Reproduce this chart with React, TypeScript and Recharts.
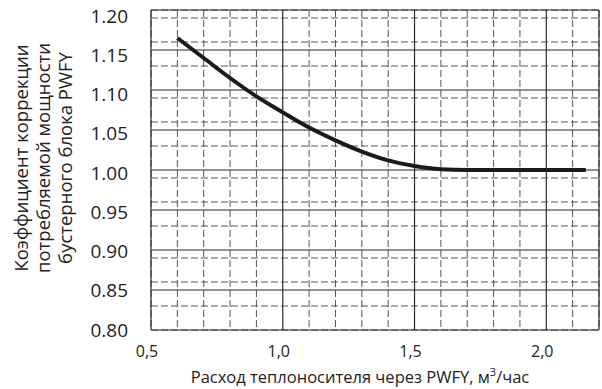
import { LineChart, Line, XAxis, YAxis, CartesianGrid, Label } from 'recharts'

// flow rate (m3/h) vs. power correction coefficient
const flowRate = [0.6, 0.7, 0.8, 0.9, 1.0, 1.1, 1.2, 1.3, 1.4, 1.5, 1.6, 1.7, 1.9, 2.15]
const correction = [1.165, 1.14, 1.115, 1.092, 1.072, 1.053, 1.037, 1.023, 1.012, 1.005, 1.001, 1.0, 1.0, 1.0]

const xTicks = [0.5, 1.0, 1.5, 2.0]
const yTicks = [0.8, 0.85, 0.9, 0.95, 1.0, 1.05, 1.1, 1.15, 1.2]

// grid lines
const xMajor = [0.5, 1.0, 1.5, 2.0, 2.2]
const xMinor = [0.6, 0.7, 0.8, 0.9, 1.1, 1.2, 1.3, 1.4, 1.6, 1.7, 1.8, 1.9, 2.1]
const yMinor = [
  0.81, 0.82, 0.83, 0.84, 0.86, 0.87, 0.88, 0.89, 0.91, 0.92, 0.93, 0.94, 0.96, 0.97, 0.98, 0.99,
  1.01, 1.02, 1.03, 1.04, 1.06, 1.07, 1.08, 1.09, 1.11, 1.12, 1.13, 1.14, 1.16, 1.17, 1.18, 1.19,
]

const yTitleLines = ['Коэффициент коррекции', 'потребляемой мощности', 'бустерного блока PWFY']

const data = flowRate.map((x, i) => ({ x, y: correction[i] }))

const FONT = '"Open Sans", sans-serif'

const YTitle = ({ viewBox }: any) => {
  const cy = viewBox.y + viewBox.height / 2 - 12
  const xs = [28, 50, 72]
  return (
    <g>
      {yTitleLines.map((t, i) => (
        <text
          key={i}
          x={xs[i]}
          y={cy}
          transform={`rotate(-90, ${xs[i]}, ${cy})`}
          textAnchor="middle"
          fontSize={18.5}
          fontFamily={FONT}
          fill="#222"
        >
          {t}
        </text>
      ))}
    </g>
  )
}

const XTitle = () => (
  <text x={360} y={383} textAnchor="middle" fontSize={16.5} fontFamily={FONT} fill="#222">
    Расход теплоносителя через PWFY, м
    <tspan dy={-7} fontSize={11}>3</tspan>
    <tspan dy={7}>/час</tspan>
  </text>
)

const YTick = ({ x, y, payload }: any) => (
  <text x={x} y={y + (payload.value - 0.8) * 15} dy="0.355em" textAnchor="end" fontSize={19} fontFamily={FONT} fill="#222">
    {payload.value.toFixed(2)}
  </text>
)

export default function App() {
  return (
    <div style={{ width: 602, height: 389, background: '#fff' }}>
      <style>{`body{margin:0}`}</style>
      <LineChart width={602} height={389} data={data} margin={{ top: 10, right: 3, bottom: 0, left: 0 }}>
        <XAxis xAxisId="minor" dataKey="x" type="number" domain={[0.5, 2.2]} ticks={xMinor} hide />
        <YAxis yAxisId="minor" dataKey="y" type="number" domain={[0.8, 1.2]} ticks={yMinor} width={151} hide />
        <XAxis xAxisId="major" dataKey="x" type="number" domain={[0.5, 2.2]} ticks={xMajor} hide />
        <YAxis yAxisId="major" dataKey="y" type="number" domain={[0.8, 1.2]} ticks={yTicks} width={151} hide />
        <CartesianGrid xAxisId="minor" yAxisId="minor" stroke="#555" strokeDasharray="7 3" />
        <CartesianGrid xAxisId="major" yAxisId="major" stroke="#2a2a2a" strokeWidth={1.2} />
        <XAxis
          dataKey="x"
          type="number"
          domain={[0.5, 2.2]}
          ticks={xTicks}
          tickFormatter={(v: number) => v.toFixed(1).replace('.', ',')}
          axisLine={false}
          tickLine={false}
          tickSize={0}
          tickMargin={16}
          tick={{ fill: '#222', fontSize: 16, fontFamily: FONT, dx: -4 }}
          height={59}
        >
          <Label content={<XTitle />} />
        </XAxis>
        <YAxis
          dataKey="y"
          type="number"
          domain={[0.8, 1.2]}
          ticks={yTicks}
          axisLine={false}
          tickLine={false}
          tickSize={0}
          tickMargin={23}
          width={151}
          tick={<YTick />}
        >
          <Label content={<YTitle />} />
        </YAxis>
        <Line
          type="monotone"
          dataKey="y"
          stroke="#1a1a1a"
          strokeWidth={4}
          dot={false}
          isAnimationActive={false}
        />
      </LineChart>
    </div>
  )
}
